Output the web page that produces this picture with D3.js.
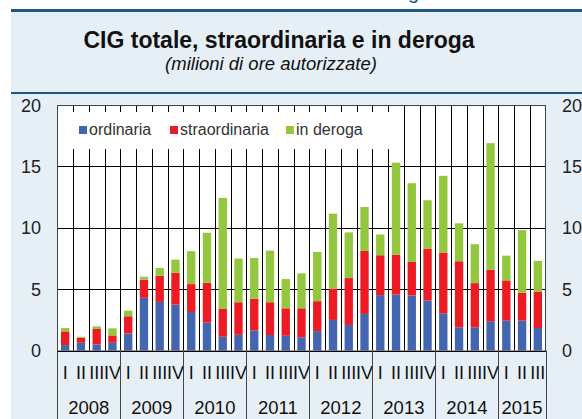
<!DOCTYPE html>
<html>
<head>
<meta charset="utf-8">
<script src="https://d3js.org/d3.v7.min.js"></script>
<style>
  body { margin: 0; background: #fff; }
  svg { display: block; font-family: "Liberation Sans", Arial, sans-serif; }
</style>
</head>
<body>
<script>

  // quarterly data, 2008 Q1 - 2015 Q3 (milioni di ore)
  var quarters = ["I","II","III","IV"];
  var years = ["2008","2009","2010","2011","2012","2013","2014","2015"];
  var ordinaria = [0.44,0.63,0.49,0.63, 1.39,4.29,3.96,3.74, 3.14,2.27,1.12,1.28, 1.64,1.26,1.20,1.07,
                   1.58,2.49,2.08,2.98, 4.51,4.56,4.48,4.07, 3.01,1.89,1.89,2.38, 2.43,2.43,1.83];
  var straordinaria = [1.12,0.41,1.26,0.60, 1.40,1.48,2.13,2.60, 2.27,3.25,2.30,2.65, 2.57,2.67,2.24,2.37,
                       2.44,2.56,3.82,5.13, 3.25,3.25,2.73,4.24, 4.97,5.38,3.60,4.20, 3.28,2.27,2.98];
  var deroga = [0.27,0.08,0.22,0.57, 0.46,0.24,0.63,1.06, 2.68,4.07,9.01,3.56, 3.33,4.21,2.38,2.84,
                4.01,6.10,3.72,3.58, 1.69,7.49,6.42,3.93, 6.25,3.09,3.17,10.31, 2.02,5.11,2.49];
  var yTicks = [0,5,10,15,20];
  var seriesNames = ["ordinaria","straordinaria","in deroga"];
  var colors = ["#4465AF","#ED1C24","#93C83E"];

  var W = 582, H = 419;
  var svg = d3.select("body").append("svg")
    .attr("width", W)
    .attr("height", H);

  // panel background and rules
  svg.append("rect").attr("x",11).attr("y",10).attr("width",W-11).attr("height",H-10).attr("fill","#E7EFF6");
  svg.append("rect").attr("x",11).attr("y",9).attr("width",W-11).attr("height",3).attr("fill","#1D5A82");
  svg.append("rect").attr("x",11).attr("y",92).attr("width",W-11).attr("height",2).attr("fill","#1D5A82");
  svg.append("text").attr("x",408).attr("y",-1).attr("font-size",20).attr("fill","#1D5A82").text("g");

  svg.append("text")
    .attr("x",279).attr("y",48)
    .attr("text-anchor","middle")
    .attr("font-size",23).attr("font-weight","bold").attr("fill","#111")
    .text("CIG totale, straordinaria e in deroga");
  svg.append("text")
    .attr("x",271).attr("y",70)
    .attr("text-anchor","middle")
    .attr("font-size",18.5).attr("font-style","italic").attr("fill","#111")
    .text("(milioni di ore autorizzate)");

  var data = ordinaria.map(function(d, i) {
    return { i: i, ordinaria: d, straordinaria: straordinaria[i], "in deroga": deroga[i] };
  });

  var pLeft = 57.3, pRight = 545.7, pTop = 105, pBottom = 350.5;

  var x = d3.scaleBand()
    .domain(d3.range(data.length))
    .range([pLeft, pRight])
    .paddingInner(0).paddingOuter(0);
  var y = d3.scaleLinear().domain([0,20]).range([pBottom, pTop]);

  var plot = svg.append("g");
  plot.append("rect")
    .attr("x",pLeft).attr("y",pTop).attr("width",pRight-pLeft).attr("height",pBottom-pTop)
    .attr("fill","#fff");

  // vertical grid at each quarter boundary
  plot.selectAll(".vg")
    .data(d3.range(1, data.length))
    .enter().append("line")
    .attr("x1", function(d) { return Math.round(x(d)) + 0.5; })
    .attr("x2", function(d) { return Math.round(x(d)) + 0.5; })
    .attr("y1", pTop).attr("y2", pBottom)
    .attr("stroke","#000").attr("stroke-width",1);

  // horizontal grid
  plot.selectAll(".hg")
    .data([5,10,15])
    .enter().append("line")
    .attr("x1", pLeft).attr("x2", pRight)
    .attr("y1", function(d) { return Math.round(y(d)) + 0.5; })
    .attr("y2", function(d) { return Math.round(y(d)) + 0.5; })
    .attr("stroke","#000").attr("stroke-width",1);

  // legend box hides the grid
  plot.append("rect")
    .attr("x",pLeft+1).attr("y",112).attr("width",338).attr("height",37)
    .attr("fill","#fff");

  var stack = d3.stack().keys(seriesNames);
  var layers = stack(data);
  var bw = x.bandwidth() * 0.53;

  plot.selectAll(".layer")
    .data(layers)
    .enter().append("g")
    .attr("fill", function(d, i) { return colors[i]; })
    .selectAll("rect")
    .data(function(d) { return d; })
    .enter().append("rect")
    .attr("x", function(d) { return x(d.data.i) + (x.bandwidth() - bw) / 2; })
    .attr("width", bw)
    .attr("y", function(d) { return y(d[1]); })
    .attr("height", function(d) { return y(d[0]) - y(d[1]); });

  // frame
  plot.append("rect")
    .attr("x",Math.round(pLeft)+0.5).attr("y",pTop+0.5)
    .attr("width",Math.round(pRight-pLeft)).attr("height",pBottom-pTop)
    .attr("fill","none").attr("stroke","#444").attr("stroke-width",1);
  plot.append("line")
    .attr("x1",pLeft).attr("x2",pRight).attr("y1",Math.round(pBottom)+0.5).attr("y2",Math.round(pBottom)+0.5)
    .attr("stroke","#000");

  // legend
  var legendX = [79, 170, 286];
  var lg = svg.selectAll(".lg")
    .data(seriesNames)
    .enter().append("g")
    .attr("transform", function(d, i) { return "translate(" + legendX[i] + ",126)"; });
  lg.append("rect").attr("width",8).attr("height",8)
    .attr("fill", function(d, i) { return colors[i]; });
  lg.append("text").attr("x",10).attr("y",9)
    .attr("font-size",16).attr("fill","#333")
    .text(function(d) { return d; });

  // y axes, left and right
  svg.selectAll(".yl")
    .data(yTicks)
    .enter().append("text")
    .attr("x",41).attr("y", function(d) { return y(d) + 6.5; })
    .attr("text-anchor","end").attr("font-size",18).attr("fill","#222")
    .text(function(d) { return d; });
  svg.selectAll(".yr")
    .data(yTicks)
    .enter().append("text")
    .attr("x",562).attr("y", function(d) { return y(d) + 6.5; })
    .attr("font-size",18).attr("fill","#222")
    .text(function(d) { return d; });

  // quarter labels
  svg.selectAll(".ql")
    .data(data)
    .enter().append("text")
    .attr("x", function(d) { return x(d.i) + x.bandwidth() / 2; })
    .attr("y", 379)
    .attr("text-anchor","middle").attr("font-size",18).attr("fill","#111")
    .text(function(d) { return quarters[d.i % 4]; });

  // year labels and separators
  var yearSpans = years.map(function(yr, k) {
    var a = k * 4, b = Math.min(k * 4 + 4, data.length);
    return { year: yr, x0: x(a), x1: b < data.length ? x(b) : pRight };
  });
  svg.selectAll(".yt")
    .data(yearSpans)
    .enter().append("text")
    .attr("x", function(d) { return (d.x0 + d.x1) / 2; })
    .attr("y", 414)
    .attr("text-anchor","middle").attr("font-size",18.5).attr("fill","#111")
    .text(function(d) { return d.year; });

  var seps = [pLeft].concat(yearSpans.map(function(d) { return d.x1; }));
  svg.selectAll(".ys")
    .data(seps)
    .enter().append("line")
    .attr("x1", function(d) { return Math.round(d) + 0.5; })
    .attr("x2", function(d) { return Math.round(d) + 0.5; })
    .attr("y1", pBottom).attr("y2", H)
    .attr("stroke","#444").attr("stroke-width",1);

</script>
</body>
</html>
